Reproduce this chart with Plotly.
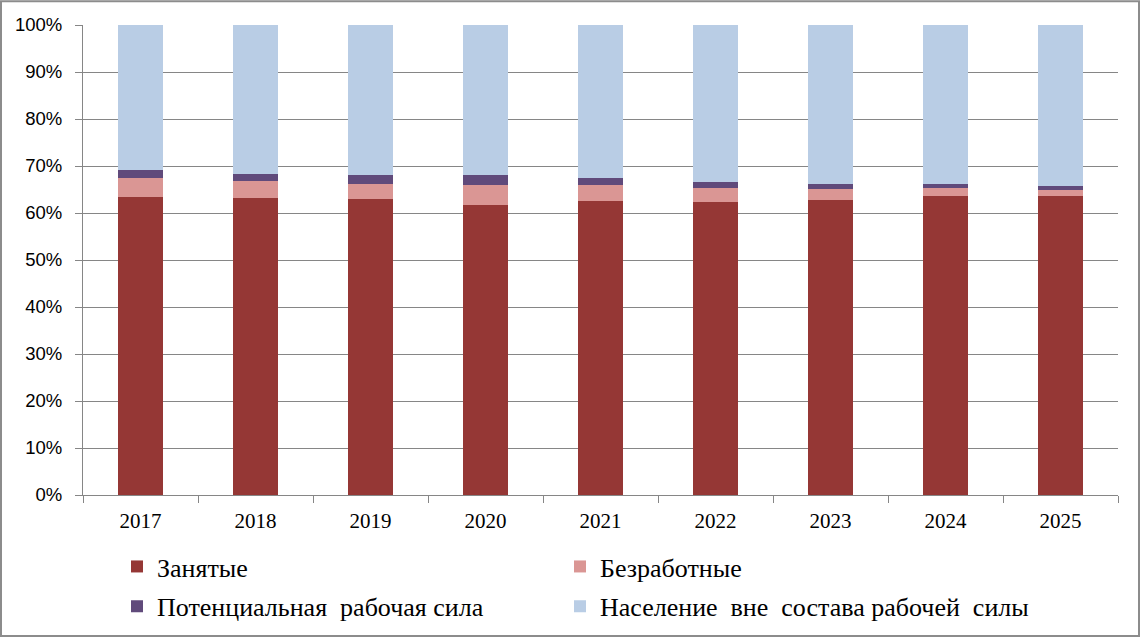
import plotly.graph_objects as go

# Data (shares of population, %)
years = ["2017", "2018", "2019", "2020", "2021", "2022", "2023", "2024", "2025"]
employed = [63.4, 63.1, 62.9, 61.8, 62.6, 62.3, 62.7, 63.6, 63.6]
unemployed = [4.1, 3.8, 3.3, 4.2, 3.4, 3.0, 2.4, 1.7, 1.3]
potential = [1.6, 1.5, 1.8, 2.0, 1.4, 1.2, 1.1, 0.9, 0.9]
outside = [30.9, 31.6, 32.0, 32.0, 32.6, 33.5, 33.8, 33.8, 34.2]

series_names = [
    "Занятые",
    "Безработные",
    "Потенциальная  рабочая сила",
    "Население  вне  состава рабочей  силы",
]

W, H = 1141, 642
ML, MR, MT, MB = 83, 23, 25, 144
PW, PH = W - ML - MR, H - MT - MB

colors = ["#953735", "#DA9694", "#604A7B", "#B9CDE5"]
serif = "Liberation Serif"

# one legend box per entry, laid out as a 2x2 grid (pixel positions of each entry)
legend_ids = ["legend", "legend2", "legend3", "legend4"]
legend_px = [(117, 570), (560, 570), (117, 610), (560, 610)]

fig = go.Figure()
for name, vals, col, lg in zip(series_names, [employed, unemployed, potential, outside], colors, legend_ids):
    fig.add_trace(go.Bar(
        x=years, y=vals, name=name, legend=lg, showlegend=True,
        marker=dict(color=col, line=dict(width=0)),
    ))

legend_layout = {}
for lg, (px, py) in zip(legend_ids, legend_px):
    legend_layout[lg] = dict(
        orientation="h", xanchor="left", yanchor="middle",
        x=(px - ML) / PW, y=-(py - MT - PH) / PH,
        font=dict(family=serif, size=26, color="#000000"),
        itemwidth=30, bgcolor="rgba(0,0,0,0)",
    )

# outer chart frame, in paper coordinates
frame = dict(
    type="rect", xref="paper", yref="paper",
    x0=(1 - ML) / PW, x1=(W - 2 - ML) / PW,
    y0=-(H - 2 - MT - PH) / PH, y1=1 + (MT - 1) / PH,
    line=dict(color="#8C8C8C", width=2), fillcolor="rgba(0,0,0,0)", layer="below",
)

fig.update_layout(
    width=W, height=H,
    margin=dict(l=ML, r=MR, t=MT, b=MB),
    font=dict(family=serif, color="#000000"),
    showlegend=True,
    barmode="stack", bargap=0.61,
    plot_bgcolor="white", paper_bgcolor="white",
    shapes=[frame],
    xaxis=dict(
        showline=True, linecolor="#868686", linewidth=1,
        ticks="outside", tickson="boundaries", ticklen=7, tickcolor="#868686",
        ticklabelstandoff=7, automargin=False,
        tickfont=dict(family=serif, size=21, color="#000000"),
        showgrid=False,
    ),
    yaxis=dict(
        range=[0, 100], dtick=10, ticksuffix="%",
        showline=True, linecolor="#868686", linewidth=1,
        ticks="outside", ticklen=7, tickcolor="#868686",
        ticklabelstandoff=9, automargin=False,
        gridcolor="#868686", gridwidth=1,
        tickfont=dict(family="Liberation Sans", size=18.5, color="#000000"),
        zeroline=False,
    ),
    **legend_layout,
)

fig.write_html("out.html", config={"displayModeBar": False},
               post_script="document.body.style.margin='0';")
